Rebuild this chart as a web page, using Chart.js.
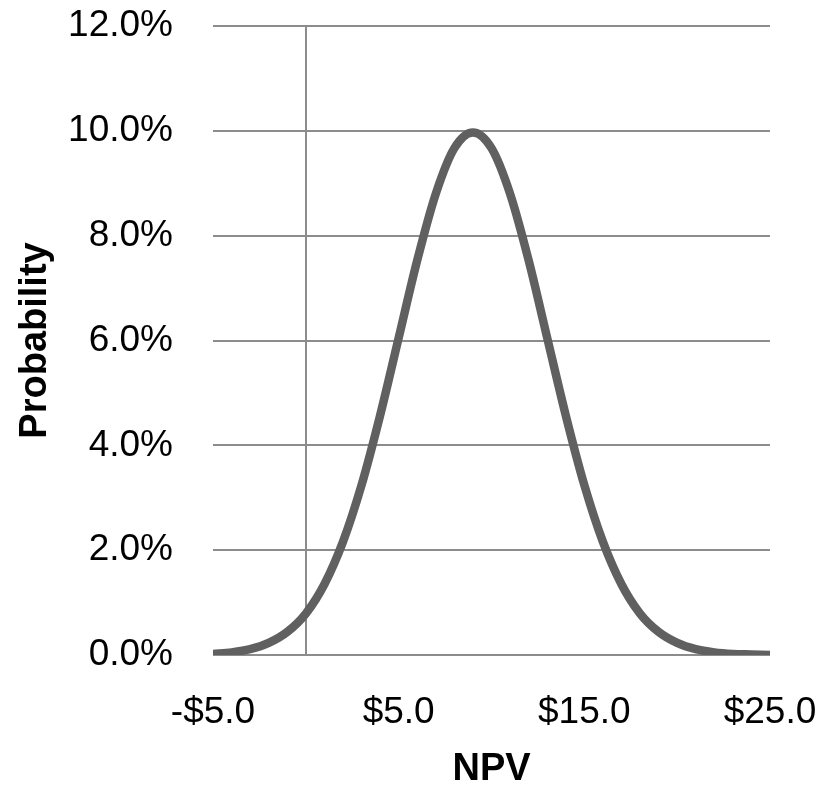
<!DOCTYPE html>
<html>
<head>
<meta charset="utf-8">
<title>NPV Probability</title>
<script src="https://cdn.jsdelivr.net/npm/chart.js@4.4.1/dist/chart.umd.min.js"></script>
<style>
  html, body { margin: 0; padding: 0; background: #ffffff; }
  #wrap { width: 830px; height: 785px; }
</style>
</head>
<body>
<div id="wrap"><canvas id="npv-chart" width="830" height="785"></canvas></div>
<script>
// NPV (x) and probability (y)
const npvValues = [-5, -4, -3, -2, -1, 0, 1, 2, 3, 4, 5, 6, 7, 8, 9, 10,
  11, 12, 13, 14, 15, 16, 17, 18, 19, 20, 21, 22, 23, 24, 25];
const probValues = [0.0002, 0.0005, 0.0011, 0.0023, 0.0044, 0.0079, 0.0135,
  0.0216, 0.0324, 0.0457, 0.0605, 0.0753, 0.0880, 0.0967, 0.0997, 0.0967,
  0.0880, 0.0753, 0.0605, 0.0457, 0.0324, 0.0216, 0.0135, 0.0079, 0.0044,
  0.0023, 0.0011, 0.0005, 0.0002, 0.0001, 0.0000];
// axis ticks
const xTicks = [-5, 5, 15, 25];
const yTicks = [0, 0.02, 0.04, 0.06, 0.08, 0.10, 0.12];

const gridColor = "#8c8c8c";
const fontFamily = '"Liberation Sans", Arial, sans-serif';

// money label like -$5.0 / $15.0
function formatNpv(v) {
  return (v < 0 ? "-$" : "$") + Math.abs(v).toFixed(1);
}
function formatPct(v) {
  return (v * 100).toFixed(1) + "%";
}

// fixed axis sizes so the plot area sits where the original one does
function fixScaleBox(scale, size) {
  scale.paddingLeft = scale.paddingRight = 0;
  scale.paddingTop = scale.paddingBottom = 0;
  if (scale.isHorizontal()) scale.height = size;
  else scale.width = size;
}

// vertical line where NPV = 0 (value axis crossing), under the curve
const zeroLinePlugin = {
  id: "zeroLine",
  beforeDatasetsDraw(chart) {
    const { ctx, chartArea, scales } = chart;
    const x = Math.round(scales.x.getPixelForValue(0));
    ctx.save();
    ctx.strokeStyle = gridColor;
    ctx.lineWidth = 2;
    ctx.beginPath();
    ctx.moveTo(x, chartArea.top);
    ctx.lineTo(x, chartArea.bottom);
    ctx.stroke();
    ctx.restore();
  },
};

const points = npvValues.map((x, i) => ({ x, y: probValues[i] }));

new Chart(document.querySelector("#npv-chart"), {
  type: "line",
  data: {
    datasets: [
      {
        data: points,
        borderColor: "#606060",
        borderWidth: 8.5,
        borderCapStyle: "butt",
        pointRadius: 0,
        fill: false,
        cubicInterpolationMode: "monotone",
      },
    ],
  },
  options: {
    responsive: false,
    animation: false,
    devicePixelRatio: 1,
    layout: { padding: { left: 13, right: 60, top: 26, bottom: 0 } },
    plugins: {
      legend: { display: false },
      tooltip: { enabled: false },
    },
    scales: {
      x: {
        type: "linear",
        min: -5,
        max: 25,
        afterBuildTicks: (scale) => {
          scale.ticks = xTicks.map((value) => ({ value }));
        },
        afterFit: (scale) => fixScaleBox(scale, 130),
        grid: { display: false, drawTicks: false },
        border: { display: false },
        ticks: {
          padding: 36,
          color: "#000000",
          maxRotation: 0,
          font: { family: fontFamily, size: 37 },
          callback: (v) => formatNpv(v),
        },
        title: {
          display: true,
          text: "NPV",
          color: "#000000",
          padding: { top: 22, bottom: 0 },
          font: { family: fontFamily, size: 38, weight: "bold", lineHeight: 0.8 },
        },
      },
      y: {
        min: 0,
        max: 0.12,
        afterBuildTicks: (scale) => {
          scale.ticks = yTicks.map((value) => ({ value }));
        },
        afterFit: (scale) => fixScaleBox(scale, 200),
        grid: { color: gridColor, lineWidth: 2, drawTicks: false },
        border: { display: false },
        ticks: {
          padding: 40,
          color: "#000000",
          font: { family: fontFamily, size: 37 },
          callback: (v) => formatPct(v),
        },
        title: {
          display: true,
          text: "Probability",
          color: "#000000",
          padding: { top: 0, bottom: 0 },
          font: { family: fontFamily, size: 38, weight: "bold", lineHeight: 1.2 },
        },
      },
    },
  },
  plugins: [zeroLinePlugin],
});
</script>
</body>
</html>
